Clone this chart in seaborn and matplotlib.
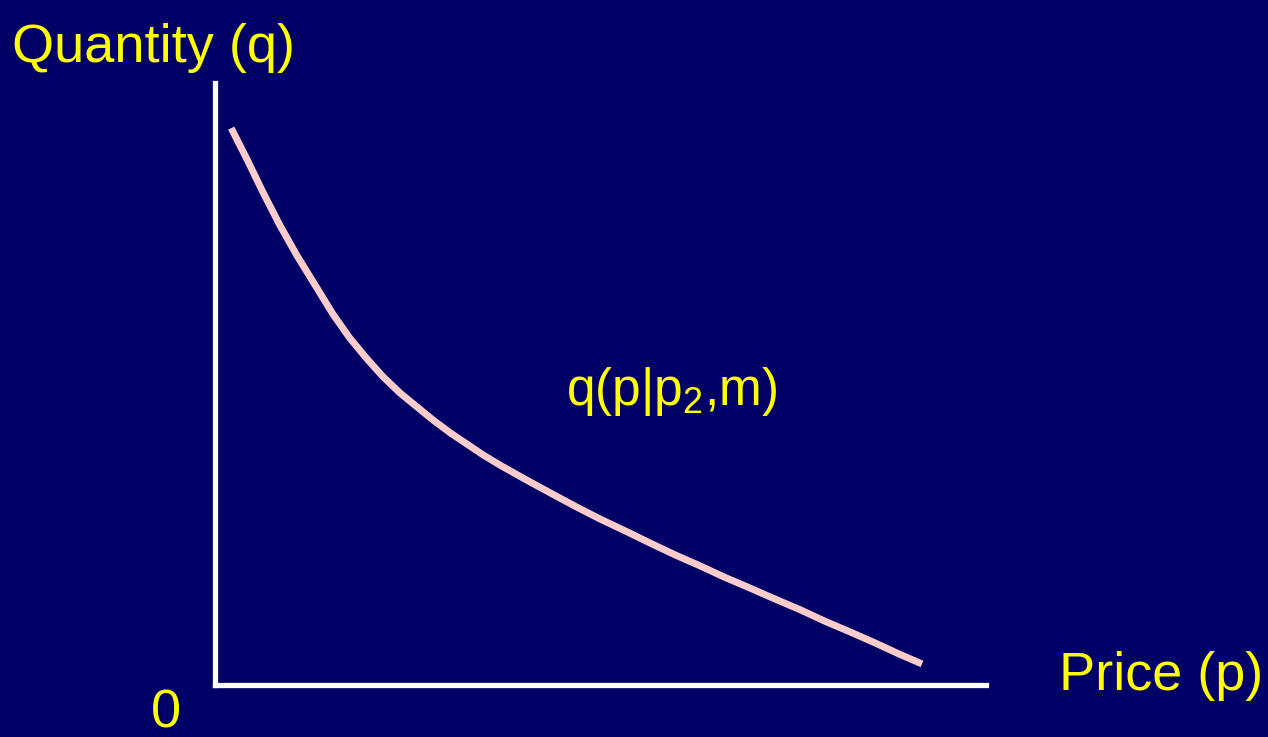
import matplotlib
matplotlib.use("Agg")
import matplotlib.pyplot as plt
import seaborn as sns

# demand curve q(p | p2, m)
price = [0.21, 0.42, 0.62, 0.84, 1.06, 1.30, 1.53, 1.75, 1.97, 2.18, 2.40, 2.62,
         2.83, 3.05, 3.27, 3.48, 3.70, 4.02, 4.35, 4.67, 4.99, 5.32, 5.64, 5.97,
         6.29, 6.61, 6.94, 7.26, 7.59, 7.91, 8.24, 8.56, 8.88, 9.17]
quantity = [9.25, 8.72, 8.19, 7.64, 7.14, 6.64, 6.16, 5.76, 5.42, 5.12, 4.85, 4.62,
            4.40, 4.19, 4.00, 3.82, 3.65, 3.42, 3.19, 2.97, 2.76, 2.56, 2.36, 2.16,
            1.98, 1.79, 1.61, 1.43, 1.25, 1.06, 0.88, 0.70, 0.51, 0.35]

bg = '#000066'
yellow = '#FFFF00'

sns.set_style('white', {'axes.facecolor': bg, 'figure.facecolor': bg})
plt.rcParams['font.family'] = ['Liberation Sans', 'DejaVu Sans']
plt.rcParams['mathtext.fontset'] = 'custom'
plt.rcParams['mathtext.rm'] = 'Liberation Sans'

fig = plt.figure(figsize=(12.68, 7.37), dpi=100)
ax = fig.add_axes([215 / 1268, 1 - 685 / 737, 771 / 1268, 602 / 737])

sns.lineplot(x=price, y=quantity, sort=False, color='#FFCCCC', linewidth=5, ax=ax,
             solid_capstyle='butt', solid_joinstyle='round')

ax.set_xlim(0, 10)
ax.set_ylim(0, 10)
for side in ['top', 'right']:
    ax.spines[side].set_visible(False)
for side in ['left', 'bottom']:
    ax.spines[side].set_color('white')
    ax.spines[side].set_linewidth(3.8)
ax.set_xticks([])
ax.set_yticks([])
ax.set_xlabel('')
ax.set_ylabel('')

fig.text(12 / 1268, 1 - 62 / 737, 'Quantity (q)', color=yellow, fontsize=39, ha='left', va='baseline')
fig.text(1263 / 1268, 1 - 690 / 737, 'Price (p)', color=yellow, fontsize=39, ha='right', va='baseline')
fig.text(151 / 1268, 1 - 727 / 737, '0', color=yellow, fontsize=39, ha='left', va='baseline')
fig.text(566 / 1268, 1 - 405 / 737, r'q(p|p$_2$,m)', color=yellow, fontsize=37, ha='left', va='baseline')

fig.savefig('out.png', dpi=100, facecolor=bg)
